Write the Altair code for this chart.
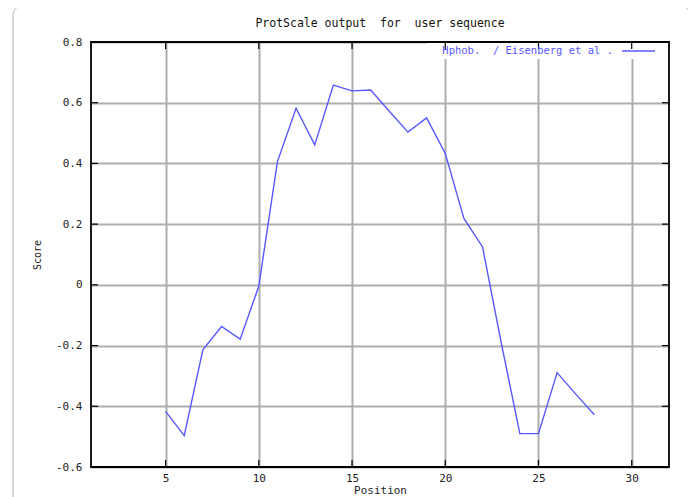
import altair as alt
import pandas as pd

# ---- data ----
positions = list(range(5, 29))
scores = [-0.417, -0.497, -0.214, -0.137, -0.179, -0.004, 0.406, 0.582, 0.461, 0.658,
          0.639, 0.642, 0.572, 0.503, 0.550, 0.433, 0.219, 0.125, -0.19, -0.49,
          -0.49, -0.289, -0.36, -0.428]
x_ticks = [5, 10, 15, 20, 25, 30]
y_ticks = [-0.6, -0.4, -0.2, 0.0, 0.2, 0.4, 0.6, 0.8]
inner_y_ticks = [-0.4, -0.2, 0.0, 0.2, 0.4, 0.6]
title_text = "ProtScale output \u00a0for \u00a0user sequence"
legend_label = "Hphob. \u00a0/ Eisenberg et al ."

LINE = "#5858ff"
FONT = "DejaVu Sans Mono"
W, H = 578, 425
GRID = "#adadad"
TXT = "#222222"

df = pd.DataFrame({"Position": positions, "Score": scores})
xt = pd.DataFrame({"Position": x_ticks})
yt = pd.DataFrame({"Score": inner_y_ticks})
leg = pd.DataFrame({"label": [legend_label], "title": [title_text]})

xscale = alt.Scale(domain=[1, 32], nice=False, zero=False)
yscale = alt.Scale(domain=[-0.6, 0.8], nice=False, zero=False)

line = alt.Chart(df).mark_line(color=LINE, strokeWidth=1.4).encode(
    x=alt.X("Position:Q", scale=xscale,
            axis=alt.Axis(values=x_ticks, title="Position", grid=True, ticks=False,
                          domain=False, labelPadding=5, titlePadding=1,
                          gridColor=GRID, gridWidth=2, gridOpacity=1,
                          labelFont=FONT, labelFontSize=11, labelColor=TXT,
                          titleFont=FONT, titleColor=TXT,
                          titleFontSize=11, titleFontWeight="normal")),
    y=alt.Y("Score:Q", scale=yscale,
            axis=alt.Axis(values=y_ticks, title="Score", grid=True, ticks=False,
                          domain=False, format=".1~f",
                          labelExpr="replace(datum.label, '\u2212', '-')",
                          gridColor=GRID, gridWidth=2, gridOpacity=1,
                          labelFont=FONT, labelFontSize=11, labelColor=TXT,
                          labelPadding=9, titlePadding=13,
                          titleFont=FONT, titleColor=TXT,
                          titleFontSize=10, titleFontWeight="normal")),
)

# white key box behind the legend entry
key_box = alt.Chart(leg).mark_rect(color="white").encode(
    x=alt.value(336), x2=alt.value(W - 1), y=alt.value(1), y2=alt.value(17))

# inward tick marks (bottom/top, left/right)
xt_bottom = alt.Chart(xt).mark_rule(color="black", strokeWidth=1.2).encode(
    x=alt.X("Position:Q", scale=xscale), y=alt.value(H), y2=alt.value(H - 7))
xt_top = alt.Chart(xt).mark_rule(color="black", strokeWidth=1.2).encode(
    x=alt.X("Position:Q", scale=xscale), y=alt.value(0), y2=alt.value(7))
yt_left = alt.Chart(yt).mark_rule(color="black", strokeWidth=1.2).encode(
    y=alt.Y("Score:Q", scale=yscale), x=alt.value(0), x2=alt.value(7))
yt_right = alt.Chart(yt).mark_rule(color="black", strokeWidth=1.2).encode(
    y=alt.Y("Score:Q", scale=yscale), x=alt.value(W), x2=alt.value(W - 7))

frame = alt.Chart(leg).mark_rect(fillOpacity=0, stroke="black", strokeWidth=1.8).encode(
    x=alt.value(0), x2=alt.value(W), y=alt.value(0), y2=alt.value(H))

leg_text = alt.Chart(leg).mark_text(align="right", baseline="middle", color=LINE,
                                    fontSize=10.5, font=FONT).encode(
    text="label:N", x=alt.value(522), y=alt.value(9))
leg_line = alt.Chart(leg).mark_rule(color=LINE, strokeWidth=1.4).encode(
    x=alt.value(531), x2=alt.value(564), y=alt.value(9))

title = alt.Chart(leg).mark_text(align="center", baseline="middle", color="#111",
                                 fontSize=11.5, font=FONT).encode(
    text="title:N", x=alt.value(W / 2), y=alt.value(-18))

border = alt.Chart(leg).mark_rect(fillOpacity=0, stroke="#b0b0b0", strokeWidth=1,
                                  cornerRadius=9).encode(
    x=alt.value(-78), x2=alt.value(599), y=alt.value(-36), y2=alt.value(480))

chart = alt.layer(border, key_box, line, xt_bottom, xt_top, yt_left, yt_right, frame,
                  leg_text, leg_line, title).properties(
    width=W, height=H,
    background="white",
    autosize=alt.AutoSizeParams(type="none"),
    padding={"left": 83, "top": 34, "right": 19, "bottom": 30},
).configure_view(stroke=None)

chart.save("out.html", embed_options={"renderer": "svg", "actions": False})
